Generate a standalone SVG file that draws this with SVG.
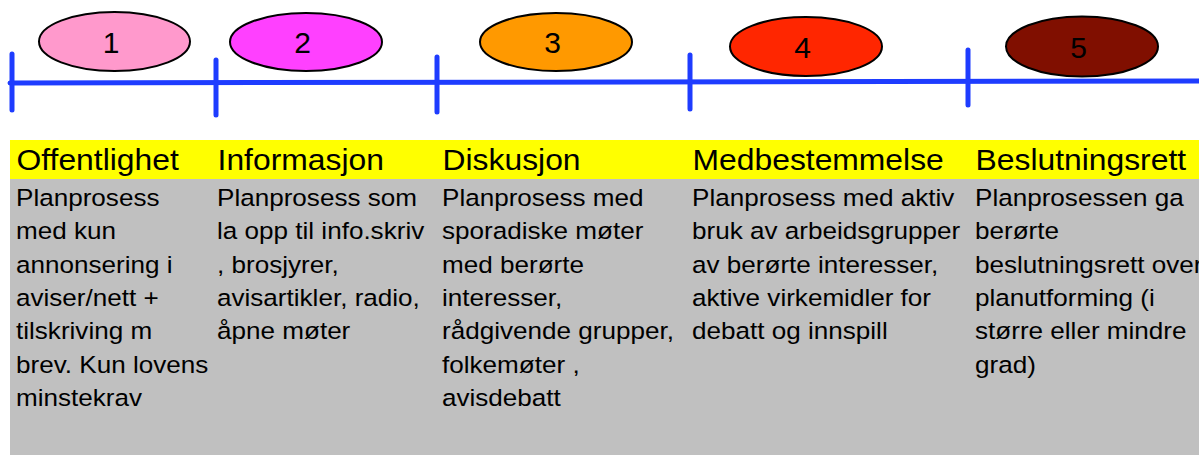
<svg xmlns="http://www.w3.org/2000/svg" width="1199" height="455" viewBox="0 0 1199 455">
<style>
.tl{stroke:#1E3CFF;stroke-width:5;stroke-linecap:round;fill:none}
.el{stroke:#000;stroke-width:2}
.num{font-family:"Liberation Sans",Arial,sans-serif;font-size:30px;fill:#000;text-anchor:middle}
.hd{font-family:"Liberation Sans",Arial,sans-serif;font-size:28.7px;fill:#000}
.bd{font-family:"Liberation Sans",Arial,sans-serif;font-size:23.5px;fill:#000}
</style>
<rect width="1199" height="455" fill="#fff"/>
<g id="table">
<rect x="10" y="140" width="1189" height="39" fill="#FFFF00"/>
<rect x="10" y="179" width="1189" height="276" fill="#C0C0C0"/>
</g>
<g id="connectors">
<line class="tl" x1="10" y1="83" x2="1199" y2="81"/>
<line class="tl" x1="12" y1="54" x2="12" y2="110"/>
<line class="tl" x1="216" y1="60" x2="216" y2="115"/>
<line class="tl" x1="437" y1="57" x2="437" y2="112"/>
<line class="tl" x1="690" y1="55" x2="690" y2="109"/>
<line class="tl" x1="968" y1="50" x2="968" y2="105"/>
</g>
<g id="n1"><ellipse class="el" cx="114.5" cy="41.5" rx="75.5" ry="29.5" fill="#FF99CC"/><text class="num" x="111" y="52.5">1</text></g>
<g id="n2"><ellipse class="el" cx="306" cy="42" rx="76" ry="29" fill="#FF40FF"/><text class="num" x="302.5" y="53">2</text></g>
<g id="n3"><ellipse class="el" cx="556" cy="42" rx="76" ry="29" fill="#FF9900"/><text class="num" x="552.5" y="53">3</text></g>
<g id="n4"><ellipse class="el" cx="806" cy="46.5" rx="76" ry="29.5" fill="#FF2600"/><text class="num" x="802.5" y="57.5">4</text></g>
<g id="n5"><ellipse class="el" cx="1082" cy="46.5" rx="76" ry="30" fill="#800F00"/><text class="num" x="1078.5" y="57.5">5</text></g>
<g id="col1" transform="translate(16,0) scale(1.11,1)">
<text class="hd" x="0.5" y="170">Offentlighet</text>
<text class="bd" x="0" y="206">Planprosess</text>
<text class="bd" x="0" y="239.3">med kun</text>
<text class="bd" x="0" y="272.7">annonsering i</text>
<text class="bd" x="0" y="306">aviser/nett +</text>
<text class="bd" x="0" y="339.3">tilskriving m</text>
<text class="bd" x="0" y="372.7">brev. Kun lovens</text>
<text class="bd" x="0" y="406">minstekrav</text>
</g>
<g id="col2" transform="translate(217,0) scale(1.11,1)">
<text class="hd" x="0.5" y="170">Informasjon</text>
<text class="bd" x="0" y="206">Planprosess som</text>
<text class="bd" x="0" y="239.3">la opp til info.skriv</text>
<text class="bd" x="0" y="272.7">, brosjyrer,</text>
<text class="bd" x="0" y="306">avisartikler, radio,</text>
<text class="bd" x="0" y="339.3">åpne møter</text>
</g>
<g id="col3" transform="translate(442,0) scale(1.11,1)">
<text class="hd" x="0.5" y="170">Diskusjon</text>
<text class="bd" x="0" y="206">Planprosess med</text>
<text class="bd" x="0" y="239.3">sporadiske møter</text>
<text class="bd" x="0" y="272.7">med berørte</text>
<text class="bd" x="0" y="306">interesser,</text>
<text class="bd" x="0" y="339.3">rådgivende grupper,</text>
<text class="bd" x="0" y="372.7">folkemøter ,</text>
<text class="bd" x="0" y="406">avisdebatt</text>
</g>
<g id="col4" transform="translate(692,0) scale(1.11,1)">
<text class="hd" x="0.5" y="170">Medbestemmelse</text>
<text class="bd" x="0" y="206">Planprosess med aktiv</text>
<text class="bd" x="0" y="239.3">bruk av arbeidsgrupper</text>
<text class="bd" x="0" y="272.7">av berørte interesser,</text>
<text class="bd" x="0" y="306">aktive virkemidler for</text>
<text class="bd" x="0" y="339.3">debatt og innspill</text>
</g>
<g id="col5" transform="translate(975,0) scale(1.11,1)">
<text class="hd" x="0.5" y="170">Beslutningsrett</text>
<text class="bd" x="0" y="206">Planprosessen ga</text>
<text class="bd" x="0" y="239.3">berørte</text>
<text class="bd" x="0" y="272.7">beslutningsrett over</text>
<text class="bd" x="0" y="306">planutforming (i</text>
<text class="bd" x="0" y="339.3">større eller mindre</text>
<text class="bd" x="0" y="372.7">grad)</text>
</g>
</svg>
